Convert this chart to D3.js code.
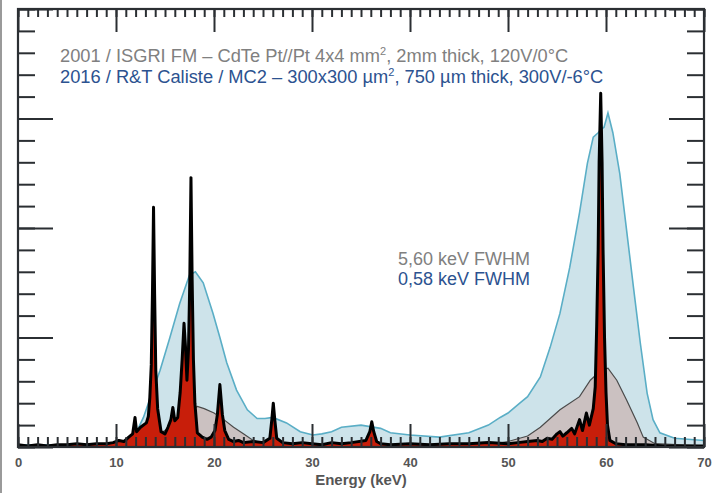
<!DOCTYPE html>
<html>
<head>
<meta charset="utf-8">
<script src="https://cdn.jsdelivr.net/npm/d3@7"></script>
<style>
  body { margin: 0; background: #fff; }
  svg { display: block; font-family: "Liberation Sans", Arial, sans-serif; }
</style>
</head>
<body>
<svg id="drawing_region"></svg>
<script>
// 2001 ISGRI spectrum (light blue)
const isgriEnergy = [0, 5, 10, 11, 12, 12.8, 13.5, 14.5, 15.5, 16.5, 17.5, 18.1, 18.9, 19.9, 20.6, 21.3, 22.3, 23.4, 24.4, 25.2, 26, 27.4, 28.8, 30.1, 31, 32, 33, 35, 37, 38, 40, 43, 46, 48, 49.2, 50, 51.2, 52, 53.3, 54.3, 55.3, 56.3, 57.3, 58.1, 58.7, 59.2, 59.5, 59.8, 60.2, 60.7, 61.4, 62.1, 62.8, 63.5, 64.2, 64.8, 65.5, 67, 70];
const isgriCounts = [2, 2, 3, 5, 12, 27, 45, 70, 100, 131, 157, 160, 150, 122, 100, 77, 52, 34, 26, 26, 27, 22, 14, 11, 12, 14, 18, 20, 17, 13, 11, 9, 13, 20, 27, 31, 40, 46, 64, 91, 122, 164, 214, 259, 283, 287, 290, 292, 305, 287, 250, 198, 146, 95, 49, 25, 13, 8, 6];

// grey reference spectrum
const greyEnergy = [0, 12, 13, 15, 17, 18.3, 19, 20, 21, 22, 23, 24, 25, 27, 30, 45, 48, 50, 52, 53.3, 55.3, 57.3, 58.4, 59.5, 60.2, 61.1, 62.1, 63.2, 63.8, 65, 70];
const greyCounts = [0, 0, 5, 15, 30, 37, 35, 31, 25, 18, 12, 6, 3, 2, 1, 1, 2, 5, 10, 18, 34, 46, 61, 70, 72, 61, 43, 22, 9, 3, 1];

// 2016 Caliste spectrum (red / black)
const calisteEnergy = [0, 1, 2, 3, 4, 5, 6, 7, 8, 9, 9.7, 10.3, 10.8, 11.3, 11.7, 11.94, 12.1, 12.5, 13.1, 13.3, 13.45, 13.6, 13.72, 13.83, 13.94, 14.06, 14.25, 14.6, 15.0, 15.3, 15.6, 15.8, 16.0, 16.3, 16.55, 16.75, 16.94, 17.1, 17.24, 17.4, 17.53, 17.65, 17.77, 17.9, 18.05, 18.3, 18.8, 19.3, 19.7, 20.1, 20.35, 20.6, 20.85, 21.1, 21.5, 22, 22.5, 23, 24, 25, 25.7, 25.9, 26.05, 26.2, 26.4, 27, 28, 29, 30, 31, 32, 33, 34, 35.5, 35.9, 36.1, 36.3, 36.6, 37, 38, 40, 42, 44, 46, 48, 50, 51, 52, 53, 53.5, 54, 54.5, 55, 55.3, 55.6, 56, 56.5, 56.8, 57.3, 57.6, 58.0, 58.3, 58.7, 58.9, 59.05, 59.2, 59.3, 59.46, 59.6, 59.7, 59.85, 60.0, 60.15, 60.4, 61, 62, 64, 66, 70];
const calisteCounts = [2, 1, 2, 1, 2, 2, 3, 2, 3, 3, 4, 6, 5, 9, 12, 27, 14, 18, 22, 28, 45, 75, 140, 219, 140, 70, 35, 14, 12, 18, 25, 36, 24, 27, 50, 80, 113, 90, 61, 90, 152, 246, 152, 80, 40, 13, 9, 7, 9, 15, 30, 57, 30, 15, 7, 5, 6, 4, 5, 4, 8, 25, 40, 25, 8, 4, 3, 4, 3, 2, 4, 3, 4, 6, 14, 23, 14, 5, 3, 2, 3, 2, 3, 3, 4, 3, 4, 5, 6, 5, 8, 7, 12, 14, 10, 13, 17, 12, 25, 15, 31, 20, 35, 55, 110, 180, 260, 323, 260, 180, 100, 50, 20, 6, 3, 2, 2, 1, 1];

const xTicksMajor = [0, 10, 20, 30, 40, 50, 60, 70];
const xTicksMinor = d3.range(0, 71, 1);
const yTicksMajor = [0, 100, 200, 300, 400];
const yTicksMinor = d3.range(0, 401, 20);

const titleLines = [
    { text: "2001 / ISGRI FM – CdTe Pt//Pt 4x4 mm", sup: "2", rest: ", 2mm thick, 120V/0°C", color: "#808080" },
    { text: "2016 / R&T Caliste / MC2 – 300x300 µm", sup: "2", rest: ", 750 µm thick, 300V/-6°C", color: "#2c5290" }
];
const fwhmLines = [
    { text: "5,60 keV FWHM", color: "#808080" },
    { text: "0,58 keV FWHM", color: "#2c5290" }
];

const width = 718, height = 493;
const margin = { top: 9, right: 14, bottom: 46, left: 18 };

const svg = d3.select('#drawing_region')
    .attr('width', width)
    .attr('height', height);

// thin grey border on the left of the picture
svg.append('line')
    .attr('x1', 1).attr('x2', 1).attr('y1', 0).attr('y2', height)
    .attr('stroke', '#9a9a9a').attr('stroke-width', 2);

const xscale = d3.scaleLinear()
    .domain([0, 70])
    .range([margin.left, width - margin.right]);

const yscale = d3.scaleLinear()
    .domain([0, 400])
    .range([height - margin.bottom, margin.top]);

const toPoints = (es, cs) => es.map((e, i) => ({ e: e, c: cs[i] }));

const area = d3.area()
    .x(d => xscale(d.e))
    .y0(yscale(0))
    .y1(d => yscale(d.c));

const line = d3.line()
    .x(d => xscale(d.e))
    .y(d => yscale(d.c));

const isgri = toPoints(isgriEnergy, isgriCounts);
const grey = toPoints(greyEnergy, greyCounts);
const caliste = toPoints(calisteEnergy, calisteCounts);

const plot = svg.append('g');

plot.append('path').datum(isgri)
    .attr('d', area)
    .attr('fill', '#cde3ea');
plot.append('path').datum(isgri)
    .attr('d', line)
    .attr('fill', 'none')
    .attr('stroke', '#5aaec6')
    .attr('stroke-width', 1.6);

plot.append('path').datum(grey)
    .attr('d', area)
    .attr('fill', '#cbc1c1');
plot.append('path').datum(grey)
    .attr('d', line)
    .attr('fill', 'none')
    .attr('stroke', '#4a4a4a')
    .attr('stroke-width', 1.2);

plot.append('path').datum(caliste)
    .attr('d', area)
    .attr('fill', '#c81e0a');
plot.append('path').datum(caliste)
    .attr('d', line)
    .attr('fill', 'none')
    .attr('stroke', '#000')
    .attr('stroke-width', 3)
    .attr('stroke-linejoin', 'round');

// axes: ticks point inward on all four sides
const axisColor = '#2b2f33';
const x0 = xscale(0), x1 = xscale(70), y0 = yscale(0), y1 = yscale(400);

function styleAxis(g) {
    g.select('.domain').remove();
    g.selectAll('line').attr('stroke', axisColor).attr('stroke-width', 2);
    g.selectAll('text').remove();
}

svg.append('g').attr('transform', `translate(0, ${y1})`)
    .call(d3.axisBottom(xscale).tickValues(xTicksMinor).tickSize(8)).call(styleAxis);
svg.append('g').attr('transform', `translate(0, ${y1})`)
    .call(d3.axisBottom(xscale).tickValues(xTicksMajor).tickSize(23)).call(styleAxis);

svg.append('g').attr('transform', `translate(0, ${y0})`)
    .call(d3.axisTop(xscale).tickValues(xTicksMinor).tickSize(10)).call(styleAxis);
svg.append('g').attr('transform', `translate(0, ${y0})`)
    .call(d3.axisTop(xscale).tickValues(xTicksMajor).tickSize(23)).call(styleAxis);

svg.append('g').attr('transform', `translate(${x0}, 0)`)
    .call(d3.axisRight(yscale).tickValues(yTicksMinor).tickSize(17)).call(styleAxis);
svg.append('g').attr('transform', `translate(${x0}, 0)`)
    .call(d3.axisRight(yscale).tickValues(yTicksMajor).tickSize(35)).call(styleAxis);

svg.append('g').attr('transform', `translate(${x1}, 0)`)
    .call(d3.axisLeft(yscale).tickValues(yTicksMinor).tickSize(17)).call(styleAxis);
svg.append('g').attr('transform', `translate(${x1}, 0)`)
    .call(d3.axisLeft(yscale).tickValues(yTicksMajor).tickSize(35)).call(styleAxis);

svg.append('rect')
    .attr('x', x0).attr('y', y1)
    .attr('width', x1 - x0).attr('height', y0 - y1)
    .attr('fill', 'none')
    .attr('stroke', axisColor)
    .attr('stroke-width', 2.2);

// tick labels
const labels = svg.append('g').attr('transform', `translate(0, ${y0})`)
    .call(d3.axisBottom(xscale).tickValues(xTicksMajor).tickSize(0).tickPadding(11));
labels.select('.domain').remove();
labels.selectAll('text')
    .attr('font-family', '"Liberation Sans", Arial, sans-serif')
    .attr('font-size', 13)
    .attr('font-weight', 'bold')
    .attr('fill', '#555');

svg.append('text')
    .attr('x', xscale(35)).attr('y', 485)
    .attr('text-anchor', 'middle')
    .attr('font-size', 15)
    .attr('font-weight', 'bold')
    .attr('fill', '#555')
    .text('Energy (keV)');

// header text
titleLines.forEach((t, i) => {
    const txt = svg.append('text')
        .attr('x', 60).attr('y', 62 + i * 21)
        .attr('font-size', 18.3)
        .attr('fill', t.color);
    txt.append('tspan').text(t.text);
    txt.append('tspan').attr('font-size', 11).attr('dy', -7).text(t.sup);
    txt.append('tspan').attr('dy', 7).text(t.rest);
});

fwhmLines.forEach((t, i) => {
    svg.append('text')
        .attr('x', 398).attr('y', 265 + i * 20)
        .attr('font-size', 18)
        .attr('fill', t.color)
        .text(t.text);
});
</script>
</body>
</html>
